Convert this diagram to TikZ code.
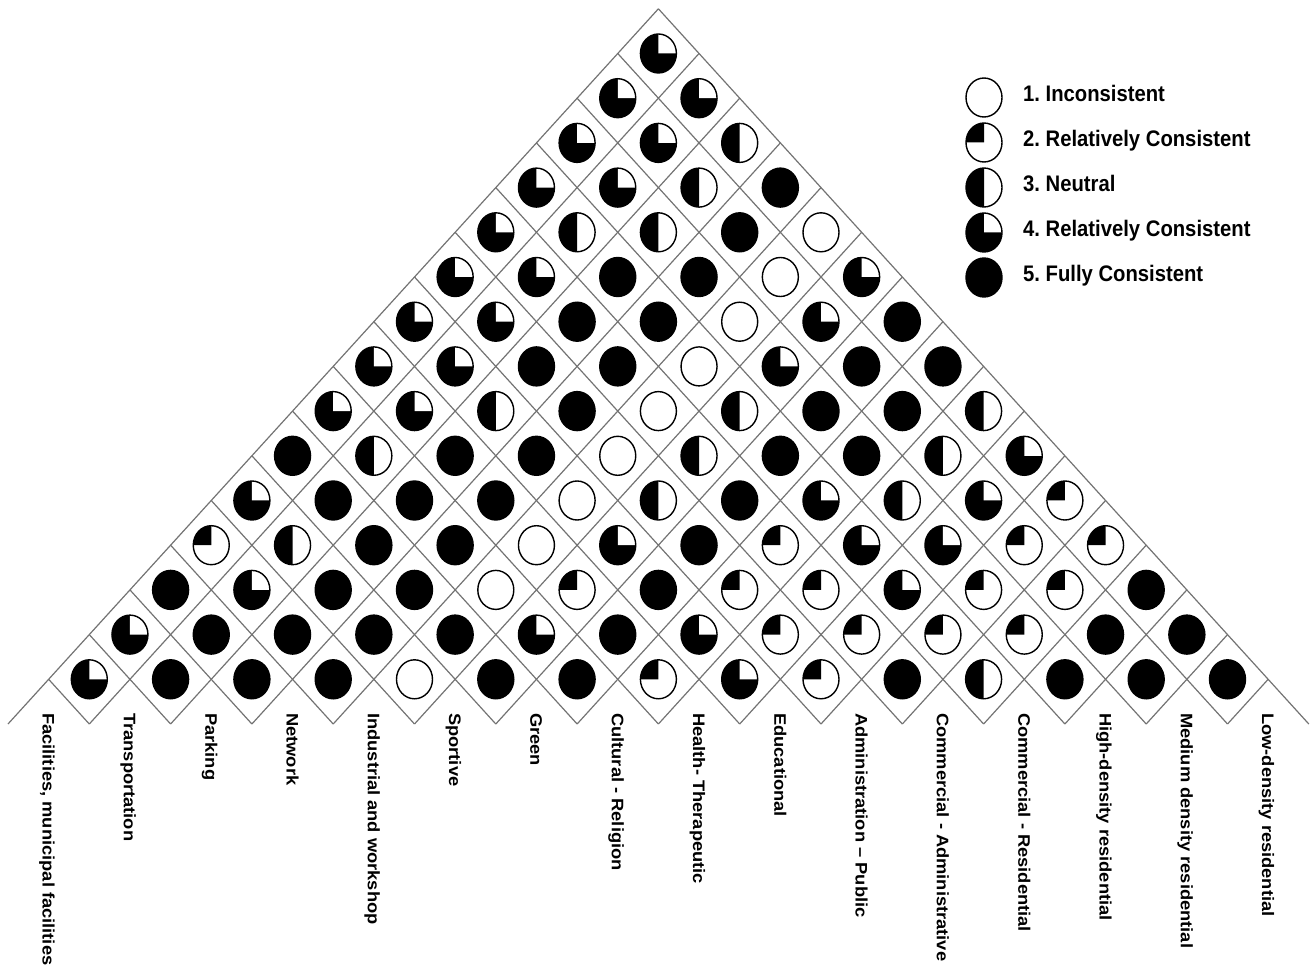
\documentclass[tikz,border=0pt]{standalone}
\usepackage{fontspec}
\setmainfont{Liberation Sans}
\usepackage{graphicx}
\frenchspacing
\tikzset{
  gridline/.style={draw=black!55, line width=1.2pt},
  symout/.style={draw=black, line width=1.4pt},
  lab/.style={rotate=-90, anchor=base west, inner sep=0pt, font=\fontsize{18.3}{20}\selectfont\bfseries},
  legtext/.style={anchor=base west, inner sep=0pt, font=\fontsize{22.5}{25}\selectfont\bfseries},
  sym/.pic={
    \fill[white] (0,0) ellipse [x radius=18, y radius=19.5];
    \ifcase#1
    \or
    \or \fill[black] (0,0) -- (-18,0) arc [start angle=180, end angle=270, x radius=18, y radius=19.5] -- cycle;
    \or \fill[black] (0,19.5) arc [start angle=90, end angle=270, x radius=18, y radius=19.5] -- cycle;
    \or \fill[black] (0,0) ellipse [x radius=18, y radius=19.5];
        \fill[white] (0,0) -- (18,0) arc [start angle=0, end angle=-90, x radius=18, y radius=19.5] -- cycle;
    \or \fill[black] (0,0) ellipse [x radius=18, y radius=19.5];
    \fi
    \draw[symout] (0,0) ellipse [x radius=18, y radius=19.5];
  }
}
\begin{document}
\frenchspacing
\begin{tikzpicture}[x=1pt, y=-1pt]
\useasboundingbox (0,0) rectangle (1310,973);
% grid lines
\foreach \k in {0,...,15}
  \draw[gridline] ({8+81.3*\k},724) -- ++({40.65*(16-\k)},{-44.7*(16-\k)});
\foreach \k in {1,...,16}
  \draw[gridline] ({8+81.3*\k},724) -- ++({-40.65*\k},{-44.7*\k});
% symbols
\foreach \r/\vals in {
  1/{4,5,5,5,1,5,5,2,4,2,5,3,5,5,5},
  2/{4,5,5,5,5,4,5,4,2,2,2,2,5,5},
  3/{5,4,5,5,1,2,5,2,2,4,2,2,5},
  4/{2,3,5,5,1,4,5,2,4,4,2,2},
  5/{4,5,5,5,1,3,5,4,3,4,2},
  6/{5,3,5,5,1,3,5,5,3,4},
  7/{4,4,3,5,1,3,5,5,3},
  8/{4,4,5,5,1,4,5,5},
  9/{4,4,5,5,1,4,5},
  10/{4,4,5,5,1,4},
  11/{4,3,3,5,1},
  12/{4,4,3,5},
  13/{4,4,3},
  14/{4,4},
  15/{4}} {
  \foreach \t [count=\i] in \vals {
    \pic (s\r-\i) at ({-32.65+81.3*(\i+\r/2)},{724-44.7*\r}) {sym=\t};
  }
}
% labels
\foreach \i/\txt in {
  1/{Facilities, municipal facilities},
  2/Transportation,
  3/Parking,
  4/Network,
  5/Industrial and workshop,
  6/Sportive,
  7/Green,
  8/Cultural - Religion,
  9/Health- Therapeutic,
  10/Educational,
  11/Administration – Public,
  12/Commercial - Administrative,
  13/Commercial - Residential,
  14/High-density residential,
  15/Medium density residential,
  16/Low-density residential} {
  \node[lab] (l\i) at ({-32.65+81.3*\i-6},713) {\scalebox{1}[0.91]{\txt}};
}
% legend
\foreach \k/\t in {1/1. Inconsistent, 2/2. Relatively Consistent, 3/3. Neutral, 4/4. Relatively Consistent, 5/5. Fully Consistent} {
  \pic (g\k) at (984,{97.5+45*(\k-1)}) {sym=\k};
  \node[legtext] (t\k) at (1023,{101.8+45*(\k-1)}) {\scalebox{0.9}[1]{\t}};
}
\end{tikzpicture}
\end{document}
